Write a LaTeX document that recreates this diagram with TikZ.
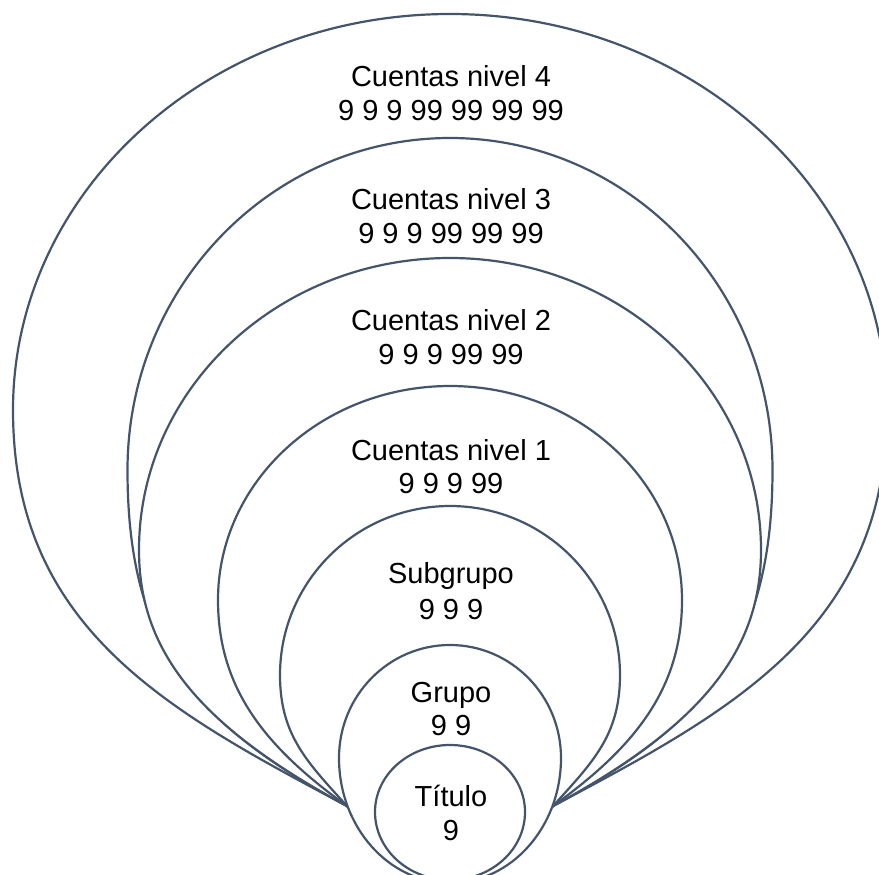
\documentclass[tikz,border=0pt]{standalone}
\usepackage{fontspec}
\setmainfont{Liberation Sans}
\definecolor{ln}{HTML}{44546A}
\tikzset{
  ringshape/.style={draw=ln, fill=white, line width=2.2pt, line join=round},
  lbl/.style={font=\fontsize{29}{33}\selectfont, anchor=base, inner sep=0pt, text=black}
}
% #1 rx, #2 centre y, #3 ry (top), #4 lower control drop, #5 end control length, #6 end slope
\newcommand{\myring}[6]{%
  \path[ringshape] (347,806) .. controls ({347-#5},{806-#6*#5}) and ({450-#1},{#2+#4}) .. ({450-#1},#2)
    arc[start angle=180, end angle=360, x radius=#1, y radius=#3]
    .. controls ({450+#1},{#2+#4}) and ({553+#5},{806-#6*#5}) .. (553,806)
    .. controls (520,840) and (380,840) .. cycle;}
\begin{document}
\begin{tikzpicture}[x=1pt, y=-1pt]
  \useasboundingbox (0,0) rectangle (879,875);
  \clip (0,0) rectangle (879,875);
  % nested shapes, outermost first
  \myring{437}{410}{396}{218}{180}{0.53}
  \myring{322.5}{470}{332}{180}{150}{0.54}
  \myring{311}{550}{292}{100}{150}{0.54}
  \myring{232}{600}{214}{90}{80}{0.72}
  \myring{170}{675}{169}{60}{40}{1.1}
  % Grupo
  \path[ringshape] (339,758) arc[start angle=180, end angle=360, x radius=111, y radius=113]
    arc[start angle=0, end angle=180, x radius=111, y radius=125] -- cycle;
  % Titulo
  \path[ringshape] (375,812) arc[start angle=180, end angle=360, x radius=75, y radius=67]
    arc[start angle=0, end angle=180, x radius=75, y radius=68] -- cycle;
  % labels
  \node[lbl] (n4a) at (451,86.7) {Cuentas nivel 4};
  \node[lbl] (n4b) at (451,120.7) {9 9 9 99 99 99 99};
  \node[lbl] (n3a) at (451,209.3) {Cuentas nivel 3};
  \node[lbl] (n3b) at (451,243.3) {9 9 9 99 99 99};
  \node[lbl] (n2a) at (451,330.7) {Cuentas nivel 2};
  \node[lbl] (n2b) at (451,364.3) {9 9 9 99 99};
  \node[lbl] (n1a) at (451,460.7) {Cuentas nivel 1};
  \node[lbl] (n1b) at (451,493.3) {9 9 9 99};
  \node[lbl] (sga) at (451,583) {Subgrupo};
  \node[lbl] (sgb) at (451,619) {9 9 9};
  \node[lbl] (gra) at (451,702.7) {Grupo};
  \node[lbl] (grb) at (451,735) {9 9};
  \node[lbl] (tia) at (451,806.7) {Título};
  \node[lbl] (tib) at (451,840.7) {9};
\end{tikzpicture}
\end{document}
